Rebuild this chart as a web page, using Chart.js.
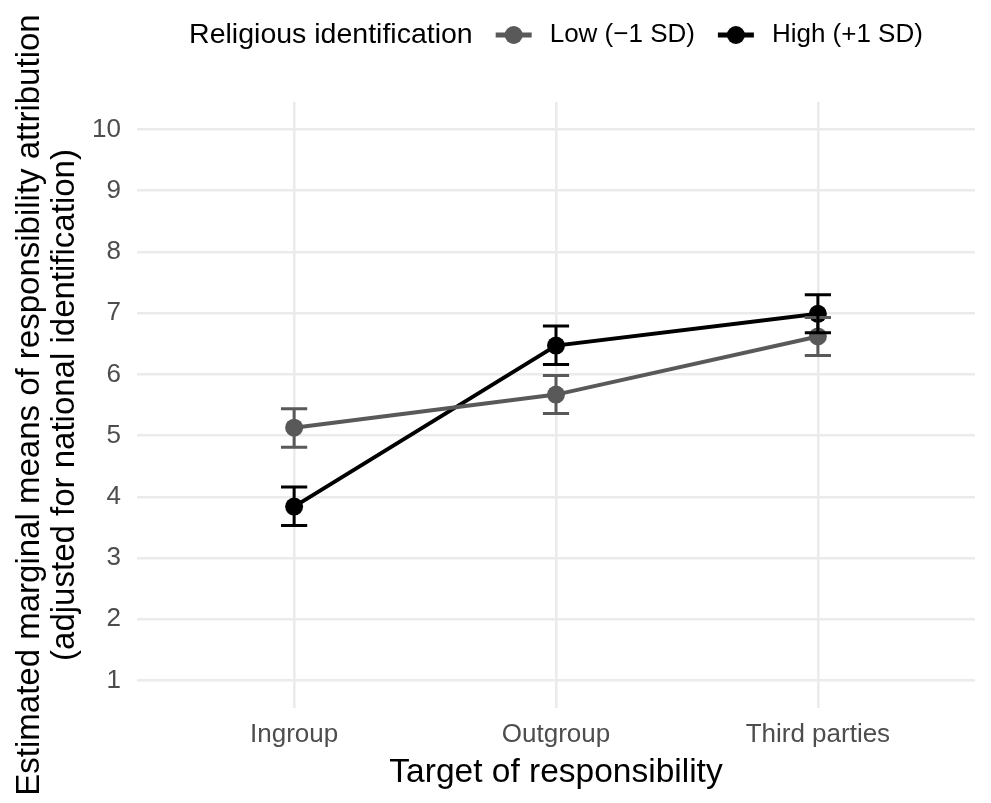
<!DOCTYPE html>
<html>
<head>
<meta charset="utf-8">
<script src="https://cdn.jsdelivr.net/npm/chart.js@4"></script>
<style>
    html, body { margin: 0; padding: 0; background: #ffffff; }
    #wrap { width: 991px; height: 803px; }
</style>
</head>
<body>
<div id="wrap"><canvas id="chart" width="991" height="803"></canvas></div>
<script>
// Data
const categories = ['Ingroup', 'Outgroup', 'Third parties'];
const lowMean = [5.13, 5.67, 6.62];
const lowLower = [4.81, 5.36, 6.31];
const lowUpper = [5.44, 5.98, 6.93];
const highMean = [3.84, 6.47, 6.99];
const highLower = [3.53, 6.16, 6.68];
const highUpper = [4.16, 6.79, 7.30];
const yTicks = [1, 1.5, 2, 2.5, 3, 3.5, 4, 4.5, 5, 5.5, 6, 6.5, 7, 7.5, 8, 8.5, 9, 9.5, 10];
const seriesLabels = ['Low (\u22121 SD)', 'High (+1 SD)'];
const legendTitle = 'Religious identification';

const FONT = "'Liberation Sans', Arial, Helvetica, sans-serif";
const lowColor = '#595959';
const highColor = '#000000';
const gridColor = '#ebebeb';

function toPoints(values) {
    return values.map((v, i) => ({ x: i, y: v }));
}

// Error bars, drawn on top of the points like ggplot's layer order
const errorBars = {
    id: 'errorBars',
    afterDatasetsDraw(chart) {
        const { ctx, scales: { x, y } } = chart;
        const sets = [
            { lo: lowLower, hi: lowUpper, color: lowColor },
            { lo: highLower, hi: highUpper, color: highColor }
        ];
        ctx.save();
        ctx.lineWidth = 3;
        sets.forEach(s => {
            ctx.strokeStyle = s.color;
            s.lo.forEach((lo, i) => {
                const px = x.getPixelForValue(i);
                const pLo = y.getPixelForValue(lo);
                const pHi = y.getPixelForValue(s.hi[i]);
                const half = x.getPixelForValue(i + 0.05) - px;
                ctx.beginPath();
                ctx.moveTo(px, pLo);
                ctx.lineTo(px, pHi);
                ctx.moveTo(px - half, pLo);
                ctx.lineTo(px + half, pLo);
                ctx.moveTo(px - half, pHi);
                ctx.lineTo(px + half, pHi);
                ctx.stroke();
            });
        });
        ctx.restore();
    }
};

// ggplot style legend on top: title, then line+point keys
const topLegend = {
    id: 'topLegend',
    afterDraw(chart) {
        const { ctx, chartArea } = chart;
        const cy = 35;
        ctx.save();
        ctx.textBaseline = 'middle';
        ctx.font = '28.5px ' + FONT;
        const titleW = ctx.measureText(legendTitle).width;
        ctx.font = '26px ' + FONT;
        const labelW = seriesLabels.map(t => ctx.measureText(t).width);
        const keyW = 36, gapA = 23, gapB = 18;
        const total = titleW + 2 * (gapA + keyW + gapB) + labelW[0] + labelW[1];
        let cx = (chartArea.left + chartArea.right) / 2 - total / 2;

        ctx.fillStyle = '#000000';
        ctx.font = '28.5px ' + FONT;
        ctx.fillText(legendTitle, cx, cy);
        cx += titleW;

        const colors = [lowColor, highColor];
        seriesLabels.forEach((label, i) => {
            cx += gapA;
            ctx.strokeStyle = colors[i];
            ctx.fillStyle = colors[i];
            ctx.lineWidth = 5;
            ctx.beginPath();
            ctx.moveTo(cx, cy);
            ctx.lineTo(cx + keyW, cy);
            ctx.stroke();
            ctx.beginPath();
            ctx.arc(cx + keyW / 2, cy, 9, 0, Math.PI * 2);
            ctx.fill();
            cx += keyW + gapB;
            ctx.fillStyle = '#000000';
            ctx.font = '26px ' + FONT;
            ctx.fillText(label, cx, cy);
            cx += labelW[i];
        });
        ctx.restore();
    }
};

const ctx = document.getElementById('chart').getContext('2d');
const chart = new Chart(ctx, {
    type: 'line',
    data: {
        datasets: [{
            label: seriesLabels[0],
            data: toPoints(lowMean),
            borderColor: lowColor,
            backgroundColor: lowColor,
            borderWidth: 4,
            pointRadius: 9,
            pointBorderWidth: 0,
            pointBackgroundColor: lowColor,
            tension: 0
        }, {
            label: seriesLabels[1],
            data: toPoints(highMean),
            borderColor: highColor,
            backgroundColor: highColor,
            borderWidth: 4,
            pointRadius: 9,
            pointBorderWidth: 0,
            pointBackgroundColor: highColor,
            tension: 0
        }]
    },
    options: {
        responsive: false,
        animation: false,
        devicePixelRatio: 1,
        layout: { padding: { top: 102, right: 16, left: 0, bottom: 0 } },
        plugins: {
            legend: { display: false },
            tooltip: { enabled: false }
        },
        scales: {
            x: {
                type: 'linear',
                min: -0.6,
                max: 2.6,
                afterBuildTicks: axis => { axis.ticks = categories.map((_, i) => ({ value: i })); },
                afterFit: axis => { axis.height = 95; },
                border: { display: false },
                grid: { color: gridColor, lineWidth: 2.6, drawTicks: false },
                ticks: {
                    padding: 11,
                    color: '#4d4d4d',
                    font: { family: FONT, size: 26 },
                    callback: v => categories[v]
                },
                title: {
                    display: true,
                    text: 'Target of responsibility',
                    color: '#000000',
                    font: { family: FONT, size: 33.5, lineHeight: 1.03 },
                    padding: { top: 0, bottom: 13 }
                }
            },
            y: {
                type: 'linear',
                min: 0.55,
                max: 10.45,
                afterBuildTicks: axis => { axis.ticks = yTicks.map(v => ({ value: v })); },
                afterFit: axis => { axis.width = 137; },
                border: { display: false },
                grid: {
                    color: gridColor,
                    drawTicks: false,
                    lineWidth: c => (c.tick && Number.isInteger(c.tick.value)) ? 2.6 : 1.3
                },
                ticks: {
                    padding: 16,
                    color: '#4d4d4d',
                    font: { family: FONT, size: 26 },
                    callback: v => Number.isInteger(v) ? String(v) : ''
                },
                title: {
                    display: true,
                    text: ['Estimated marginal means of responsibility attribution', '(adjusted for national identification)'],
                    color: '#000000',
                    font: { family: FONT, size: 33, lineHeight: 1.06 },
                    padding: { top: 12, bottom: 0 }
                }
            }
        }
    },
    plugins: [errorBars, topLegend]
});
</script>
</body>
</html>
